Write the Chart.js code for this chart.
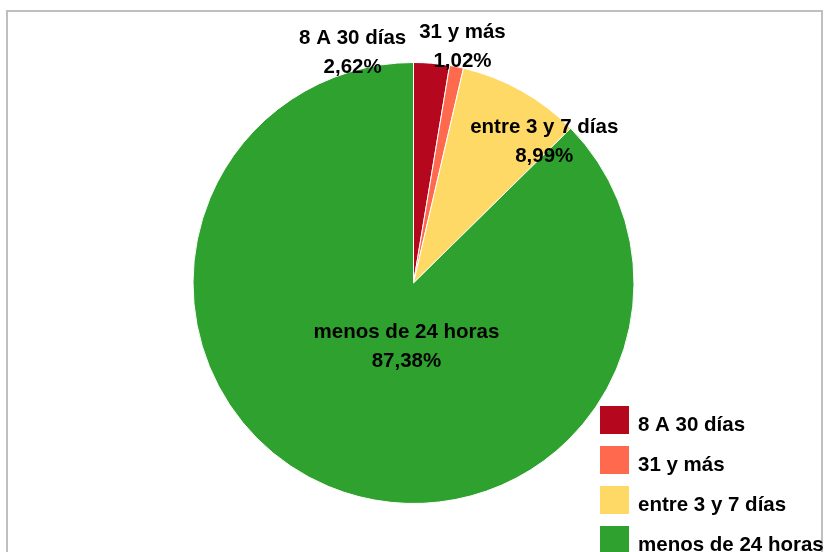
<!DOCTYPE html>
<html>
<head>
<meta charset="utf-8">
<script src="https://cdn.jsdelivr.net/npm/chart.js@4.4.0/dist/chart.umd.min.js"></script>
<style>
  html, body { margin: 0; padding: 0; background: #fff; }
  #wrap { position: relative; width: 827px; height: 552px; }
</style>
</head>
<body>
<div id="wrap"><canvas id="Chart" width="827" height="552"></canvas></div>
<script>
// categorias y valores (porcentaje)
const categorias = ['8 A 30 días', '31 y más', 'entre 3 y 7 días', 'menos de 24 horas'];
const valores = [2.62, 1.02, 8.99, 87.38];
const etiquetas = ['2,62%', '1,02%', '8,99%', '87,38%'];
const colores = ['#B5081F', '#FF6A4F', '#FFD966', '#2EA12E'];

// posicion de cada etiqueta respecto al centro, en unidades del radio
const labelPos = [[-0.276, -1.045], [0.222, -1.072], [0.593, -0.638], [-0.032, 0.290]];

const FONT = 'bold 20.5px "Liberation Sans", Arial, sans-serif';

// marco gris alrededor del grafico
const marco = {
    id: 'marco',
    beforeDraw(chart) {
        const c = chart.ctx;
        c.save();
        c.strokeStyle = '#BFBFBF';
        c.lineWidth = 2;
        c.strokeRect(7, 11, 815, 560);
        c.restore();
    }
};

// etiquetas de datos: nombre + porcentaje
const etiquetasPlugin = {
    id: 'etiquetas',
    afterDatasetsDraw(chart) {
        const c = chart.ctx;
        const arc = chart.getDatasetMeta(0).data[0];
        const cx = arc.x, cy = arc.y, r = arc.outerRadius;
        c.save();
        c.font = FONT;
        c.fillStyle = '#000';
        c.textAlign = 'center';
        c.textBaseline = 'middle';
        for (let i = 0; i < categorias.length; i++) {
            const x = cx + labelPos[i][0] * r;
            const y = cy + labelPos[i][1] * r;
            c.fillText(categorias[i], x, y - 14.5);
            c.fillText(etiquetas[i], x, y + 14.5);
        }
        c.restore();
    }
};

// leyenda abajo a la derecha
const leyenda = {
    id: 'leyenda',
    afterDraw(chart) {
        const c = chart.ctx;
        c.save();
        c.font = FONT;
        c.textBaseline = 'middle';
        c.textAlign = 'left';
        for (let i = 0; i < categorias.length; i++) {
            const y = 406 + i * 40;
            c.fillStyle = colores[i];
            c.fillRect(600, y, 29, 28);
            c.fillStyle = '#000';
            c.fillText(categorias[i], 638, y + 19);
        }
        c.restore();
    }
};

const ctx = document.getElementById('Chart');
const chart = new Chart(ctx, {
    type: 'pie',
    data: {
        labels: categorias,
        datasets: [{
            data: valores,
            backgroundColor: colores,
            borderColor: '#FFFFFF',
            borderWidth: 1
        }]
    },
    options: {
        responsive: false,
        animation: false,
        layout: { padding: { top: 62, bottom: 48, left: 0, right: 0 } },
        plugins: {
            legend: { display: false },
            tooltip: { enabled: false }
        }
    },
    plugins: [marco, etiquetasPlugin, leyenda]
});
</script>
</body>
</html>
